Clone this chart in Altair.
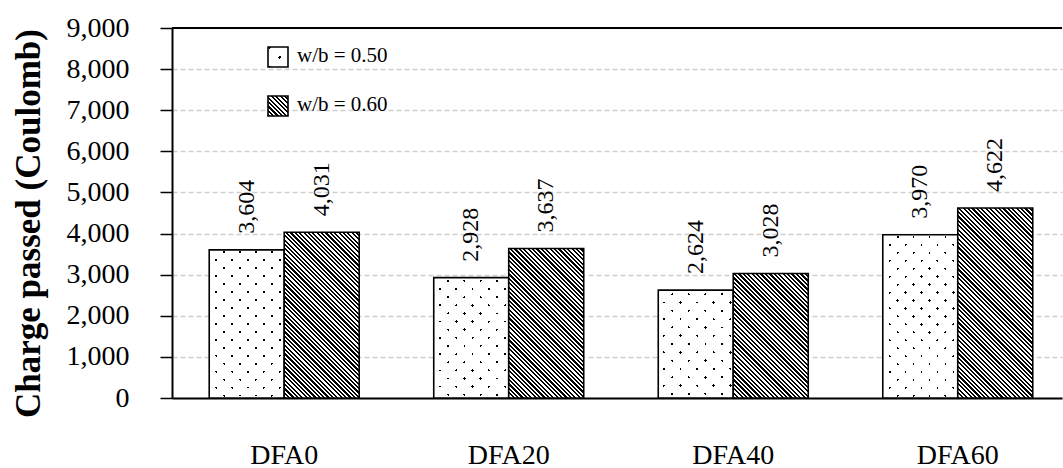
import altair as alt
import pandas as pd

# ---- data -------------------------------------------------------------
categories = ["DFA0", "DFA20", "DFA40", "DFA60"]
groups = ["w/b = 0.50", "w/b = 0.60"]
charge_050 = [3604, 2928, 2624, 3970]
charge_060 = [4031, 3637, 3028, 4622]
y_ticks = [0, 1000, 2000, 3000, 4000, 5000, 6000, 7000, 8000, 9000]

# ---- layout -----------------------------------------------------------
W, H = 890, 370
Y_MAX = 9000
PAD_INNER, PAD_OUTER, ALIGN = 0.332, 0.148, 0.56
FONT = "Liberation Serif"

rows = []
for c, a, b in zip(categories, charge_050, charge_060):
    rows.append({"cat": c, "grp": groups[0], "val": a})
    rows.append({"cat": c, "grp": groups[1], "val": b})
df = pd.DataFrame(rows)

step = W / (len(categories) - PAD_INNER + 2 * PAD_OUTER)
bar_w = step * (1 - PAD_INNER) / len(groups)


def stripes(n, frac, on, off):
    """Hard-edged alternating gradient stops: n periods, `frac` of each is `on`."""
    stops = []
    for k in range(n):
        a, b, e = k / n, (k + frac) / n, (k + 1) / n
        stops += [
            {"offset": round(a, 6), "color": on},
            {"offset": round(b, 6), "color": on},
            {"offset": round(b, 6), "color": off},
            {"offset": round(e, 6), "color": off},
        ]
    return stops


def back_diag(w, h, period, frac, on, off):
    """45-degree '\\' stripes inside a w x h box (bounding-box gradient units)."""
    k = (w + h) / (w * w + h * h)
    n = max(1, round((w + h) / period))
    return {"gradient": "linear", "x1": 0, "y1": 1, "x2": k * w, "y2": 1 - k * h,
            "stops": stripes(n, frac, on, off)}


def fwd_diag(w, h, period, frac, on, off):
    """45-degree '/' stripes inside a w x h box (bounding-box gradient units)."""
    k = (w + h) / (w * w + h * h)
    n = max(1, round((w + h) / period))
    return {"gradient": "linear", "x1": 0, "y1": 0, "x2": k * w, "y2": k * h,
            "stops": stripes(n, frac, on, off)}


CLEAR = "rgba(255,255,255,0)"
DOT_P, DOT_F = 16, 2.6 / 16      # dot lattice: crossing of two sparse diagonals
HATCH_P, HATCH_F = 4.4, 0.5      # dense diagonal hatch


def dotted_layers(chart, w, h):
    under = chart.mark_bar(fill=fwd_diag(w, h, DOT_P, DOT_F, "black", "white"), strokeWidth=0)
    over = chart.mark_bar(fill=back_diag(w, h, DOT_P, DOT_F, CLEAR, "white"),
                          stroke="black", strokeWidth=1.6)
    return [under, over]


def hatched_layer(chart, w, h):
    return chart.mark_bar(fill=back_diag(w, h, HATCH_P, HATCH_F, "black", "white"),
                          stroke="black", strokeWidth=1.6)


base = alt.Chart(df).encode(
    x=alt.X("cat:N", sort=categories, title=None,
            scale=alt.Scale(paddingInner=PAD_INNER, paddingOuter=PAD_OUTER, align=ALIGN),
            axis=alt.Axis(labelAngle=0, ticks=False, labelFont=FONT, labelFontSize=28,
                          labelColor="black", labelPadding=65, labelBaseline="alphabetic",
                          domainColor="black", domainWidth=2)),
    xOffset=alt.XOffset("grp:N", sort=groups,
                        scale=alt.Scale(paddingInner=0, paddingOuter=0)),
    y=alt.Y("val:Q", scale=alt.Scale(domain=[0, Y_MAX], nice=False),
            axis=alt.Axis(values=y_ticks, format=",.0f", title="Charge passed (Coulomb)",
                          labelFont=FONT, labelFontSize=28, labelColor="black",
                          labelPadding=31, tickSize=12, tickColor="black", tickWidth=1.5,
                          domainColor="black", domainWidth=2,
                          grid=True, gridColor="#cfcfcf", gridDash=[5, 3], gridWidth=1.3,
                          titleFont=FONT, titleFontSize=35, titleFontWeight="bold",
                          titleColor="black", titleAngle=270, titleAlign="center",
                          titleBaseline="middle", titleX=-144, titleY=195)),
)

layers = []
for c, a, b in zip(categories, charge_050, charge_060):
    sel_a = base.transform_filter((alt.datum.cat == c) & (alt.datum.grp == groups[0]))
    sel_b = base.transform_filter((alt.datum.cat == c) & (alt.datum.grp == groups[1]))
    layers += dotted_layers(sel_a, bar_w, a / Y_MAX * H)
    layers.append(hatched_layer(sel_b, bar_w, b / Y_MAX * H))

# value labels, rotated, just above each bar
labels = base.mark_text(angle=270, align="left", baseline="middle", dx=16,
                        font=FONT, fontSize=24, color="black").encode(
    text=alt.Text("val:Q", format=",.0f"))

# top border of the plot area
top_line = alt.Chart(pd.DataFrame({"k": [0]})).mark_rule(
    color="black", strokeWidth=2).encode(y=alt.datum(Y_MAX))

# legend drawn in the upper-left corner of the plot
one = pd.DataFrame({"k": [0]})
SW = 20
legend_layers = []
for i, g in enumerate(groups):
    y0 = 19 + i * 49
    sw = alt.Chart(one).encode(x=alt.value(96), x2=alt.value(96 + SW),
                               y=alt.value(y0), y2=alt.value(y0 + SW))
    if i == 0:
        legend_layers += [
            sw.mark_rect(fill=fwd_diag(SW, SW, DOT_P, DOT_F, "black", "white"), strokeWidth=0),
            sw.mark_rect(fill=back_diag(SW, SW, DOT_P, DOT_F, CLEAR, "white"),
                         stroke="black", strokeWidth=1.6),
        ]
    else:
        legend_layers.append(
            sw.mark_rect(fill=back_diag(SW, SW, HATCH_P, HATCH_F, "black", "white"),
                         stroke="black", strokeWidth=1.6))
    legend_layers.append(
        alt.Chart(one).mark_text(align="left", baseline="alphabetic", font=FONT,
                                 fontSize=21, color="black").encode(
            x=alt.value(125), y=alt.value(y0 + 15), text=alt.value(g)))

chart = alt.layer(*layers, labels, top_line, *legend_layers).properties(
    width=W, height=H,
    padding={"left": 172, "top": 28, "right": 1, "bottom": 70},
    autosize=alt.AutoSizeParams(type="none"),
).configure_view(strokeWidth=0).configure_axis(
    labelFont=FONT, titleFont=FONT
).configure_text(font=FONT)

chart.save("out.html", embed_options={"renderer": "svg", "actions": False})
